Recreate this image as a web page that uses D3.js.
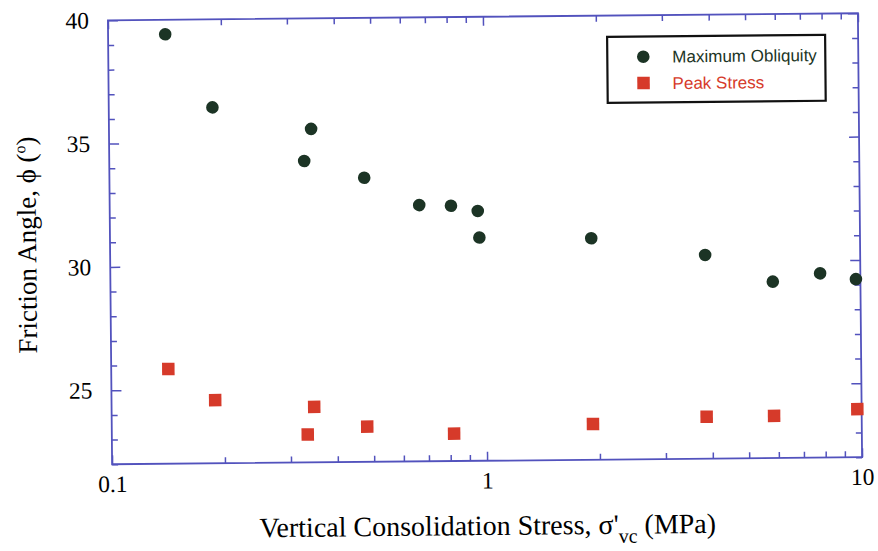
<!DOCTYPE html>
<html>
<head>
<meta charset="utf-8">
<script src="https://cdn.jsdelivr.net/npm/d3@7"></script>
<style>
  html, body { margin: 0; padding: 0; background: #fff; }
  svg { display: block; }
</style>
</head>
<body>
<svg id="chart" width="878" height="551"></svg>
<script>
// Friction angle against vertical consolidation stress
const stressObliquity = [0.142, 0.189, 0.346, 0.331, 0.478, 0.669, 0.813, 0.958, 0.966, 1.92, 3.86, 5.84, 7.81, 9.73];
const phiObliquity    = [39.41, 36.43, 35.52, 34.22, 33.52, 32.39, 32.35, 32.13, 31.05, 30.98, 30.26, 29.15, 29.47, 29.22];

const stressPeak = [0.142, 0.189, 0.347, 0.333, 0.480, 0.818, 1.92, 3.86, 5.84, 9.74];
const phiPeak    = [25.84, 24.56, 24.25, 23.13, 23.43, 23.11, 23.45, 23.70, 23.71, 23.95];

const xMajorTicks = [0.1, 1, 10];
const xMajorLabels = ["0.1", "1", "10"];
const xMinorTicks = [0.2, 0.3, 0.4, 0.5, 0.6, 0.7, 0.8, 0.9, 2, 3, 4, 5, 6, 7, 8, 9];
const yMajorTicks = [25, 30, 35, 40];
const yMinorTicks = [22, 23, 24, 26, 27, 28, 29, 31, 32, 33, 34, 36, 37, 38, 39];

const seriesNames = ["Maximum Obliquity", "Peak Stress"];

const axisColor = "#5252bd";
const greenColor = "#1c3425";
const redColor = "#d63a2a";
const serif = "'Liberation Serif', 'Times New Roman', serif";
const sans = "'Liberation Sans', Arial, sans-serif";

const plot = { left: 110, right: 860, top: 16.75, bottom: 460.75 };

const svg = d3.select("#chart");
// the whole figure sits a hair off level
const root = svg.append("g")
  .attr("transform", `rotate(-0.54, ${(plot.left + plot.right) / 2}, ${(plot.top + plot.bottom) / 2})`);

const x = d3.scaleLog().domain([0.1, 10]).range([plot.left, plot.right]);
const y = d3.scaleLinear().domain([22, 40]).range([plot.bottom, plot.top]);

function styleAxis(g) {
  g.select(".domain").remove();
  g.selectAll(".tick line").attr("stroke", axisColor).attr("stroke-width", 1.5);
  g.selectAll(".tick text")
    .attr("fill", "#000")
    .style("font-family", serif)
    .style("font-size", "23.5px");
}

// bottom axis: labelled decades plus minor ticks, all pointing inward
root.append("g")
  .attr("transform", `translate(0,${plot.bottom})`)
  .call(d3.axisBottom(x).tickValues(xMajorTicks)
    .tickFormat((d, i) => xMajorLabels[i]).tickSizeInner(-9).tickSizeOuter(0).tickPadding(11))
  .call(styleAxis);
root.append("g")
  .attr("transform", `translate(0,${plot.bottom})`)
  .call(d3.axisBottom(x).tickValues(xMinorTicks).tickFormat("").tickSizeInner(-6).tickSizeOuter(0))
  .call(styleAxis);

// top axis: ticks only
root.append("g")
  .attr("transform", `translate(0,${plot.top})`)
  .call(d3.axisTop(x).tickValues(xMajorTicks).tickFormat("").tickSizeInner(-9).tickSizeOuter(0))
  .call(styleAxis);
root.append("g")
  .attr("transform", `translate(0,${plot.top})`)
  .call(d3.axisTop(x).tickValues(xMinorTicks).tickFormat("").tickSizeInner(-6).tickSizeOuter(0))
  .call(styleAxis);

// left axis with labels
root.append("g")
  .attr("transform", `translate(${plot.left},0)`)
  .call(d3.axisLeft(y).tickValues(yMajorTicks).tickFormat(d3.format("d"))
    .tickSizeInner(-10).tickSizeOuter(0).tickPadding(19))
  .call(styleAxis);
root.append("g")
  .attr("transform", `translate(${plot.left},0)`)
  .call(d3.axisLeft(y).tickValues(yMinorTicks).tickFormat("").tickSizeInner(-6).tickSizeOuter(0))
  .call(styleAxis);

// right axis: ticks only
root.append("g")
  .attr("transform", `translate(${plot.right},0)`)
  .call(d3.axisRight(y).tickValues(yMajorTicks).tickFormat("").tickSizeInner(-10).tickSizeOuter(0))
  .call(styleAxis);
root.append("g")
  .attr("transform", `translate(${plot.right},0)`)
  .call(d3.axisRight(y).tickValues(yMinorTicks).tickFormat("").tickSizeInner(-6).tickSizeOuter(0))
  .call(styleAxis);

// plot frame
root.append("rect")
  .attr("x", plot.left).attr("y", plot.top)
  .attr("width", plot.right - plot.left).attr("height", plot.bottom - plot.top)
  .attr("fill", "none").attr("stroke", axisColor).attr("stroke-width", 1.8);

// peak stress squares
const sq = 12.5;
root.append("g").selectAll("rect")
  .data(stressPeak.map((s, i) => ({ s, p: phiPeak[i] })))
  .join("rect")
  .attr("x", d => x(d.s) - sq / 2)
  .attr("y", d => y(d.p) - sq / 2)
  .attr("width", sq).attr("height", sq)
  .attr("fill", redColor);

// maximum obliquity circles
root.append("g").selectAll("circle")
  .data(stressObliquity.map((s, i) => ({ s, p: phiObliquity[i] })))
  .join("circle")
  .attr("cx", d => x(d.s))
  .attr("cy", d => y(d.p))
  .attr("r", 6.3)
  .attr("fill", greenColor);

// legend
const legend = root.append("g");
legend.append("rect")
  .attr("x", 609).attr("y", 38).attr("width", 218).attr("height", 66)
  .attr("fill", "#fff").attr("stroke", "#111").attr("stroke-width", 2.2);
legend.append("circle").attr("cx", 645).attr("cy", 58.2).attr("r", 6.3).attr("fill", greenColor);
legend.append("rect").attr("x", 645 - sq / 2).attr("y", 84.5 - sq / 2)
  .attr("width", sq).attr("height", sq).attr("fill", redColor);
legend.append("text").attr("x", 674).attr("y", 64.2)
  .attr("fill", greenColor).style("font-family", sans).style("font-size", "17px")
  .text(seriesNames[0]);
legend.append("text").attr("x", 674).attr("y", 90.8)
  .attr("fill", redColor).style("font-family", sans).style("font-size", "17px")
  .text(seriesNames[1]);

// x-axis title with subscript
const xTitle = root.append("text")
  .attr("x", (plot.left + plot.right) / 2).attr("y", 535)
  .attr("text-anchor", "middle")
  .style("font-family", serif).style("font-size", "28px").attr("fill", "#000");
xTitle.append("tspan").text("Vertical Consolidation Stress, σ'");
xTitle.append("tspan").attr("dy", 9).style("font-size", "20px").text("vc");
xTitle.append("tspan").attr("dy", -9).text(" (MPa)");

// y-axis title with superscript
const yTitle = root.append("text")
  .attr("transform", `translate(36,${(plot.top + plot.bottom) / 2 + 2}) rotate(-90)`)
  .attr("text-anchor", "middle")
  .style("font-family", serif).style("font-size", "27px").attr("fill", "#000");
yTitle.append("tspan").text("Friction Angle, ϕ (");
yTitle.append("tspan").attr("dy", -10).style("font-size", "16px").text("o");
yTitle.append("tspan").attr("dy", 10).text(")");
</script>
</body>
</html>
